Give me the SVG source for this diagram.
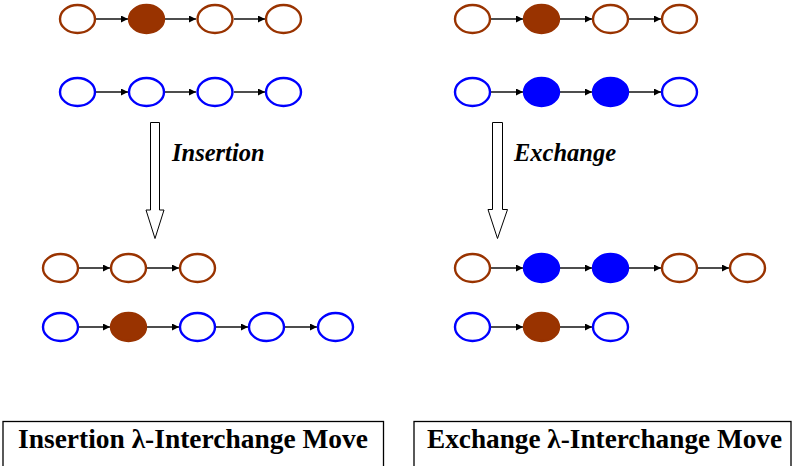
<svg xmlns="http://www.w3.org/2000/svg" width="793" height="466" viewBox="0 0 793 466">
<style>
.b{fill:none;stroke:#993300;stroke-width:2.4}
.bf{fill:#993300;stroke:#993300;stroke-width:2.4}
.u{fill:none;stroke:#0000ff;stroke-width:2.4}
.uf{fill:#0000ff;stroke:#0000ff;stroke-width:2.4}
.c{stroke:#000;stroke-width:1.4;fill:none;marker-end:url(#ah)}
.big{fill:#fff;stroke:#000;stroke-width:1}
.lab{font-family:"Liberation Serif","DejaVu Serif",serif;font-weight:bold;font-style:italic;font-size:24.5px;fill:#000}
.tit{font-family:"Liberation Serif",serif;font-weight:bold;font-size:27px;fill:#000}
.box{fill:#fff;stroke:#000;stroke-width:1.3}
</style>
<defs>
<marker id="ah" viewBox="0 0 10 10" refX="10" refY="5" markerWidth="8" markerHeight="7" markerUnits="userSpaceOnUse" orient="auto">
<path d="M0,0L10,5L0,10z" fill="#000"/>
</marker>
</defs>
<g id="connectors">
<line class="c" x1="96" y1="19" x2="128" y2="19"/>
<line class="c" x1="165" y1="19" x2="196" y2="19"/>
<line class="c" x1="234" y1="19" x2="265" y2="19"/>
<line class="c" x1="96" y1="92" x2="128" y2="92"/>
<line class="c" x1="165" y1="92" x2="196" y2="92"/>
<line class="c" x1="234" y1="92" x2="265" y2="92"/>
<line class="c" x1="491" y1="19" x2="523" y2="19"/>
<line class="c" x1="560" y1="19" x2="592" y2="19"/>
<line class="c" x1="629" y1="19" x2="661" y2="19"/>
<line class="c" x1="491" y1="92" x2="523" y2="92"/>
<line class="c" x1="560" y1="92" x2="592" y2="92"/>
<line class="c" x1="629" y1="92" x2="661" y2="92"/>
<line class="c" x1="79" y1="268" x2="110" y2="268"/>
<line class="c" x1="147" y1="268" x2="179" y2="268"/>
<line class="c" x1="79" y1="327" x2="110" y2="327"/>
<line class="c" x1="147" y1="327" x2="179" y2="327"/>
<line class="c" x1="216" y1="327" x2="248" y2="327"/>
<line class="c" x1="285" y1="327" x2="317" y2="327"/>
<line class="c" x1="491" y1="268" x2="523" y2="268"/>
<line class="c" x1="560" y1="268" x2="592" y2="268"/>
<line class="c" x1="629" y1="268" x2="661" y2="268"/>
<line class="c" x1="698" y1="268" x2="729" y2="268"/>
<line class="c" x1="491" y1="327" x2="523" y2="327"/>
<line class="c" x1="560" y1="327" x2="592" y2="327"/>
</g>
<g id="left-top-brown">
<ellipse id="lb1" class="b" cx="77.5" cy="19" rx="17.5" ry="14"/>
<ellipse id="lb2" class="bf" cx="146.5" cy="19" rx="17.5" ry="14"/>
<ellipse id="lb3" class="b" cx="215" cy="19" rx="17.5" ry="14"/>
<ellipse id="lb4" class="b" cx="283.5" cy="19" rx="17.5" ry="14"/>
</g>
<g id="left-top-blue">
<ellipse id="lu1" class="u" cx="77.5" cy="92" rx="17.5" ry="14"/>
<ellipse id="lu2" class="u" cx="146.5" cy="92" rx="17.5" ry="14"/>
<ellipse id="lu3" class="u" cx="215" cy="92" rx="17.5" ry="14"/>
<ellipse id="lu4" class="u" cx="283.5" cy="92" rx="17.5" ry="14"/>
</g>
<g id="right-top-brown">
<ellipse id="rb1" class="b" cx="472.5" cy="19" rx="17.5" ry="14"/>
<ellipse id="rb2" class="bf" cx="541.5" cy="19" rx="17.5" ry="14"/>
<ellipse id="rb3" class="b" cx="610.5" cy="19" rx="17.5" ry="14"/>
<ellipse id="rb4" class="b" cx="679.5" cy="19" rx="17.5" ry="14"/>
</g>
<g id="right-top-blue">
<ellipse id="ru1" class="u" cx="472.5" cy="92" rx="17.5" ry="14"/>
<ellipse id="ru2" class="uf" cx="541.5" cy="92" rx="17.5" ry="14"/>
<ellipse id="ru3" class="uf" cx="610.5" cy="92" rx="17.5" ry="14"/>
<ellipse id="ru4" class="u" cx="679.5" cy="92" rx="17.5" ry="14"/>
</g>
<g id="insertion-arrow">
<path class="big" d="M150.5,122.5H159.5V210H164L155,238.5L146,210H150.5Z"/>
<text class="lab" x="172" y="161">Insertion</text>
</g>
<g id="exchange-arrow">
<path class="big" d="M492.5,122.5H502.5V209.5H507.5L497.5,238.5L488,209.5H492.5Z"/>
<text class="lab" x="514" y="161">Exchange</text>
</g>
<g id="left-bottom-brown">
<ellipse id="lb5" class="b" cx="60.5" cy="268" rx="17.5" ry="14"/>
<ellipse id="lb6" class="b" cx="128.5" cy="268" rx="17.5" ry="14"/>
<ellipse id="lb7" class="b" cx="197.5" cy="268" rx="17.5" ry="14"/>
</g>
<g id="left-bottom-blue">
<ellipse id="lu5" class="u" cx="60.5" cy="327" rx="17.5" ry="14"/>
<ellipse id="lu6" class="bf" cx="128.5" cy="327" rx="17.5" ry="14"/>
<ellipse id="lu7" class="u" cx="197.5" cy="327" rx="17.5" ry="14"/>
<ellipse id="lu8" class="u" cx="266.5" cy="327" rx="17.5" ry="14"/>
<ellipse id="lu9" class="u" cx="335.5" cy="327" rx="17.5" ry="14"/>
</g>
<g id="right-bottom-brown">
<ellipse id="rb5" class="b" cx="472.5" cy="268" rx="17.5" ry="14"/>
<ellipse id="rb6" class="uf" cx="541.5" cy="268" rx="17.5" ry="14"/>
<ellipse id="rb7" class="uf" cx="610.5" cy="268" rx="17.5" ry="14"/>
<ellipse id="rb8" class="b" cx="679.5" cy="268" rx="17.5" ry="14"/>
<ellipse id="rb9" class="b" cx="747.5" cy="268" rx="17.5" ry="14"/>
</g>
<g id="right-bottom-blue">
<ellipse id="ru5" class="u" cx="472.5" cy="327" rx="17.5" ry="14"/>
<ellipse id="ru6" class="bf" cx="541.5" cy="327" rx="17.5" ry="14"/>
<ellipse id="ru7" class="u" cx="610.5" cy="327" rx="17.5" ry="14"/>
</g>
<g id="insertion-title">
<rect class="box" x="3" y="421.5" width="380.5" height="50"/>
<text class="tit" x="18" y="448" textLength="350" lengthAdjust="spacingAndGlyphs">Insertion λ-Interchange Move</text>
</g>
<g id="exchange-title">
<rect class="box" x="414" y="421.5" width="377" height="50"/>
<text class="tit" x="427" y="448" textLength="355" lengthAdjust="spacingAndGlyphs">Exchange λ-Interchange Move</text>
</g>
</svg>
